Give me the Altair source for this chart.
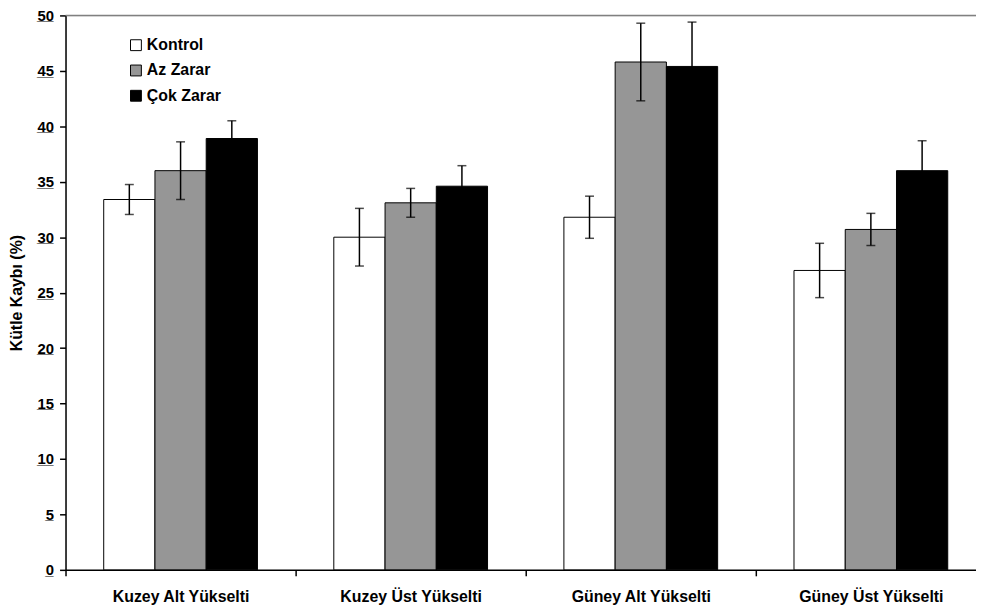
import altair as alt
import pandas as pd

groups = ["Kuzey Alt Yükselti", "Kuzey Üst Yükselti", "Güney Alt Yükselti", "Güney Üst Yükselti"]
series = ["Kontrol", "Az Zarar", "Çok Zarar"]
colors = ["#ffffff", "#969696", "#000000"]
y_ticks = [0, 5, 10, 15, 20, 25, 30, 35, 40, 45, 50]

kontrol = [33.4, 30.0, 31.8, 27.0]
kontrol_err = [1.35, 2.6, 1.9, 2.45]
az_zarar = [36.0, 33.1, 45.8, 30.7]
az_zarar_err = [2.6, 1.3, 3.5, 1.45]
cok_zarar = [38.9, 34.6, 45.4, 36.0]
cok_zarar_err = [1.6, 1.85, 4.0, 2.7]

rows = []
for s, vals, errs in zip(series, [kontrol, az_zarar, cok_zarar], [kontrol_err, az_zarar_err, cok_zarar_err]):
    for g, v, e in zip(groups, vals, errs):
        rows.append({"grup": g, "seri": s, "deger": v, "alt": v - e, "ust": v + e})
df = pd.DataFrame(rows)

ul_df = pd.DataFrame({"v": y_ticks, "u": ["_" * len(str(t)) for t in y_ticks]})

FONT = "Liberation Sans"
W = 928
H = 559

xs = alt.Scale(domain=groups, paddingInner=0, paddingOuter=0)
xos = alt.Scale(domain=series, paddingInner=0, paddingOuter=0.745)
ys = alt.Scale(domain=[0, 50], nice=False, zero=True)

x_enc = alt.X("grup:N", scale=xs, sort=groups, title=None,
              axis=alt.Axis(labelAngle=0, labelFontSize=16, labelFontWeight="bold", labelFont=FONT,
                            labelColor="#000000", tickBand="extent", tickSize=6, tickColor="#000000",
                            tickWidth=1.5, domainColor="#000000", domainWidth=1.5, labelPadding=13,
                            grid=False))
xo_enc = alt.XOffset("seri:N", scale=xos, sort=series)

bars = alt.Chart(df).mark_bar(stroke="#000000", strokeWidth=1).encode(
    x=x_enc,
    xOffset=xo_enc,
    y=alt.Y("deger:Q", scale=ys, title="Kütle Kaybı (%)",
            axis=alt.Axis(values=y_ticks, labelFontSize=15, labelFontWeight="bold",
                          labelFont=FONT, labelColor="#000000", titleFont=FONT, titleFontSize=16,
                          titleFontWeight="bold", titleColor="#000000", titlePadding=13,
                          tickSize=6, tickColor="#000000", tickWidth=1.5, domainColor="#000000",
                          domainWidth=1.5, labelPadding=6, grid=False)),
    color=alt.Color("seri:N", sort=series, scale=alt.Scale(domain=series, range=colors),
                    legend=alt.Legend(title=None, orient="none", legendX=63, legendY=22,
                                      symbolType="square", symbolSize=120, symbolStrokeColor="#000000",
                                      symbolStrokeWidth=1, labelFontSize=16, labelFontWeight="bold",
                                      labelFont=FONT, labelColor="#000000", rowPadding=9.5,
                                      labelOffset=3)),
)

rules = alt.Chart(df).mark_rule(color="#000000", strokeWidth=1.5).encode(
    x=alt.X("grup:N", scale=xs, sort=groups),
    xOffset=xo_enc,
    y=alt.Y("alt:Q", scale=ys),
    y2="ust:Q",
)
cap_lo = alt.Chart(df).mark_tick(color="#000000", size=9, thickness=1.5).encode(
    x=alt.X("grup:N", scale=xs, sort=groups),
    xOffset=xo_enc,
    y=alt.Y("alt:Q", scale=ys),
)
cap_hi = alt.Chart(df).mark_tick(color="#000000", size=9, thickness=1.5).encode(
    x=alt.X("grup:N", scale=xs, sort=groups),
    xOffset=xo_enc,
    y=alt.Y("ust:Q", scale=ys),
)

underlines = alt.Chart(ul_df).mark_text(
    align="right", baseline="middle", font=FONT, fontSize=15, fontWeight="bold", color="#000000"
).encode(
    x=alt.value(-12),
    y=alt.Y("v:Q", scale=ys),
    text="u:N",
)

top_border = alt.Chart(pd.DataFrame({"y": [50]})).mark_rule(color="#808080", strokeWidth=1.5).encode(
    y=alt.Y("y:Q", scale=ys),
    x=alt.value(0),
    x2=alt.value(W),
)

chart = alt.layer(bars, rules, cap_lo, cap_hi, underlines, top_border).properties(
    width=W, height=H,
    autosize=alt.AutoSizeParams(type="none"),
    padding={"left": 58, "top": 5, "right": -10, "bottom": 40},
).configure_view(stroke=None).configure(background="#ffffff")

chart.save("out.html", embed_options={"renderer": "svg", "actions": False})
